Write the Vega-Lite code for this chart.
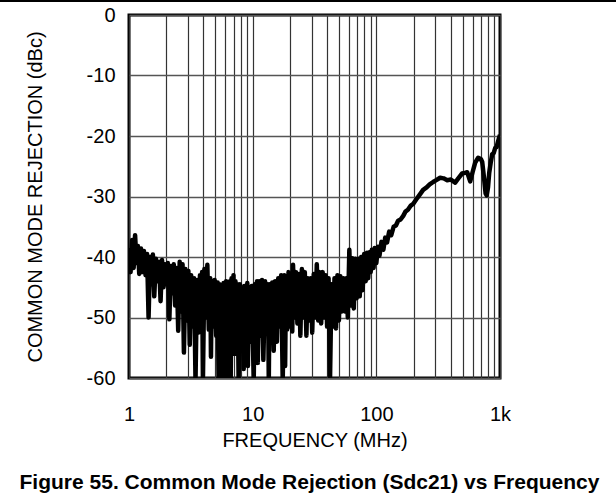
{
  "$schema": "https://vega.github.io/schema/vega-lite/v6.json",
  "width": 371,
  "height": 363,
  "autosize": {"type": "none"},
  "padding": {"left": 129, "top": 15, "right": 116, "bottom": 122},
  "background": "white",
  "config": {
    "font": "Liberation Sans",
    "view": {"stroke": "black", "strokeWidth": 3},
    "axis": {
      "domain": false,
      "ticks": false,
      "labelFont": "Liberation Sans",
      "titleFont": "Liberation Sans",
      "labelFontSize": 20,
      "titleFontSize": 20,
      "titleFontWeight": "normal",
      "labelColor": "black",
      "titleColor": "black",
      "gridOpacity": 1
    }
  },
  "title": {
    "text": "Figure 55. Common Mode Rejection (Sdc21) vs Frequency",
    "orient": "bottom",
    "anchor": "middle",
    "font": "Liberation Sans",
    "fontSize": 21,
    "fontWeight": "bold",
    "color": "black",
    "offset": 22,
    "dx": -5
  },
  "layer": [
    {
      "data": {"values": [{}]},
      "mark": {"type": "rule", "clip": false, "color": "black", "strokeWidth": 2},
      "encoding": {
        "x": {"datum": 0.05, "type": "quantitative"},
        "x2": {"datum": 20000},
        "y": {"datum": 2.3, "type": "quantitative"}
      }
    },
    {
      "data": {
        "values": [
          {"f": 1.00, "db": -38.5}, {"f": 1.03, "db": -42.5}, {"f": 1.06, "db": -37.2}, {"f": 1.09, "db": -41.8},
          {"f": 1.12, "db": -36.4}, {"f": 1.15, "db": -41.0}, {"f": 1.18, "db": -38.2}, {"f": 1.21, "db": -42.8},
          {"f": 1.25, "db": -38.6}, {"f": 1.28, "db": -42.5}, {"f": 1.32, "db": -39.0}, {"f": 1.36, "db": -43.0},
          {"f": 1.40, "db": -39.5}, {"f": 1.44, "db": -50.0}, {"f": 1.48, "db": -40.0}, {"f": 1.52, "db": -44.5},
          {"f": 1.56, "db": -39.6}, {"f": 1.60, "db": -46.5}, {"f": 1.65, "db": -40.3}, {"f": 1.70, "db": -44.0},
          {"f": 1.75, "db": -40.8}, {"f": 1.80, "db": -47.3}, {"f": 1.85, "db": -40.5}, {"f": 1.90, "db": -45.0},
          {"f": 1.95, "db": -41.2}, {"f": 2.00, "db": -44.5}, {"f": 2.06, "db": -41.0}, {"f": 2.12, "db": -50.3},
          {"f": 2.18, "db": -41.5}, {"f": 2.24, "db": -46.0}, {"f": 2.30, "db": -41.2}, {"f": 2.36, "db": -48.0},
          {"f": 2.43, "db": -41.8}, {"f": 2.50, "db": -52.2}, {"f": 2.57, "db": -40.8}, {"f": 2.64, "db": -49.0},
          {"f": 2.71, "db": -41.2}, {"f": 2.78, "db": -55.8}, {"f": 2.86, "db": -42.0}, {"f": 2.94, "db": -50.5},
          {"f": 3.02, "db": -42.3}, {"f": 3.10, "db": -54.5}, {"f": 3.18, "db": -43.0}, {"f": 3.27, "db": -51.5},
          {"f": 3.36, "db": -43.5}, {"f": 3.45, "db": -60.5}, {"f": 3.55, "db": -43.8}, {"f": 3.65, "db": -52.5},
          {"f": 3.75, "db": -43.0}, {"f": 3.85, "db": -51.0}, {"f": 3.90, "db": -42.5}, {"f": 3.96, "db": -60.5},
          {"f": 4.07, "db": -42.0}, {"f": 4.18, "db": -50.0}, {"f": 4.30, "db": -41.3}, {"f": 4.42, "db": -52.0},
          {"f": 4.54, "db": -43.5}, {"f": 4.60, "db": -56.5}, {"f": 4.67, "db": -44.0}, {"f": 4.80, "db": -51.5},
          {"f": 4.93, "db": -43.8}, {"f": 5.07, "db": -53.0}, {"f": 5.21, "db": -44.2}, {"f": 5.30, "db": -60.5},
          {"f": 5.40, "db": -44.5}, {"f": 5.51, "db": -52.0}, {"f": 5.60, "db": -45.0}, {"f": 5.72, "db": -60.5},
          {"f": 5.82, "db": -44.3}, {"f": 5.98, "db": -53.5}, {"f": 6.10, "db": -44.0}, {"f": 6.17, "db": -60.5},
          {"f": 6.32, "db": -44.5}, {"f": 6.45, "db": -53.0}, {"f": 6.55, "db": -44.0}, {"f": 6.64, "db": -60.5},
          {"f": 6.75, "db": -43.5}, {"f": 6.87, "db": -54.0}, {"f": 7.00, "db": -43.0}, {"f": 7.13, "db": -56.0},
          {"f": 7.26, "db": -44.0}, {"f": 7.40, "db": -52.5}, {"f": 7.55, "db": -44.5}, {"f": 7.70, "db": -60.5},
          {"f": 7.88, "db": -44.5}, {"f": 8.10, "db": -53.0}, {"f": 8.33, "db": -45.0}, {"f": 8.46, "db": -58.5},
          {"f": 8.56, "db": -44.8}, {"f": 8.80, "db": -53.0}, {"f": 9.05, "db": -44.3}, {"f": 9.15, "db": -58.0},
          {"f": 9.30, "db": -45.0}, {"f": 9.56, "db": -54.0}, {"f": 9.83, "db": -44.8}, {"f": 10.2, "db": -60.5},
          {"f": 10.4, "db": -44.5}, {"f": 10.7, "db": -52.5}, {"f": 10.85, "db": -44.0}, {"f": 11.0, "db": -57.5},
          {"f": 11.3, "db": -44.0}, {"f": 11.6, "db": -53.0}, {"f": 11.9, "db": -43.8}, {"f": 12.2, "db": -57.0},
          {"f": 12.6, "db": -44.0}, {"f": 12.9, "db": -52.0}, {"f": 13.3, "db": -44.5}, {"f": 13.5, "db": -60.5},
          {"f": 13.7, "db": -44.5}, {"f": 14.0, "db": -53.0}, {"f": 14.4, "db": -44.2}, {"f": 14.8, "db": -55.5},
          {"f": 15.2, "db": -44.0}, {"f": 15.7, "db": -54.0}, {"f": 16.1, "db": -43.5}, {"f": 16.6, "db": -51.5},
          {"f": 17.0, "db": -43.0}, {"f": 17.5, "db": -60.5}, {"f": 18.0, "db": -43.0}, {"f": 18.3, "db": -58.0},
          {"f": 18.6, "db": -43.2}, {"f": 19.0, "db": -52.0}, {"f": 19.5, "db": -42.5}, {"f": 20.1, "db": -51.5},
          {"f": 20.6, "db": -42.8}, {"f": 20.9, "db": -52.3}, {"f": 21.2, "db": -41.3}, {"f": 21.8, "db": -50.0},
          {"f": 22.4, "db": -42.5}, {"f": 23.0, "db": -51.0}, {"f": 23.7, "db": -42.8}, {"f": 24.3, "db": -53.0},
          {"f": 25.0, "db": -42.0}, {"f": 25.7, "db": -50.0}, {"f": 26.4, "db": -42.5}, {"f": 27.2, "db": -53.0},
          {"f": 27.9, "db": -43.5}, {"f": 28.7, "db": -50.5}, {"f": 29.5, "db": -43.5}, {"f": 30.3, "db": -52.5},
          {"f": 31.2, "db": -42.8}, {"f": 32.1, "db": -50.0}, {"f": 33.0, "db": -41.2}, {"f": 33.9, "db": -50.5},
          {"f": 34.8, "db": -42.5}, {"f": 35.8, "db": -51.0}, {"f": 36.8, "db": -42.5}, {"f": 37.8, "db": -50.0},
          {"f": 38.9, "db": -43.0}, {"f": 40.0, "db": -51.5}, {"f": 41.1, "db": -43.5}, {"f": 42.2, "db": -60.5},
          {"f": 43.4, "db": -44.5}, {"f": 44.6, "db": -51.5}, {"f": 45.9, "db": -43.5}, {"f": 47.2, "db": -51.8},
          {"f": 48.5, "db": -43.0}, {"f": 49.8, "db": -50.5}, {"f": 51.2, "db": -43.2}, {"f": 52.7, "db": -49.0},
          {"f": 54.1, "db": -43.5}, {"f": 55.7, "db": -49.0}, {"f": 57.2, "db": -43.5}, {"f": 58.8, "db": -50.0},
          {"f": 60.5, "db": -38.8}, {"f": 62.2, "db": -48.0}, {"f": 63.9, "db": -40.2}, {"f": 65.7, "db": -48.5},
          {"f": 67.5, "db": -40.3}, {"f": 69.4, "db": -46.8}, {"f": 71.4, "db": -40.3}, {"f": 73.4, "db": -46.5},
          {"f": 75.4, "db": -40.0}, {"f": 77.5, "db": -45.5}, {"f": 79.7, "db": -39.5}, {"f": 82, "db": -44.0},
          {"f": 84, "db": -39.3}, {"f": 86, "db": -43.5}, {"f": 88, "db": -39.2}, {"f": 90, "db": -42.5},
          {"f": 92, "db": -38.8}, {"f": 95, "db": -41.8}, {"f": 97, "db": -38.5}, {"f": 100, "db": -41.0},
          {"f": 103, "db": -38.3}, {"f": 106, "db": -39.8}, {"f": 110, "db": -37.5}, {"f": 114, "db": -38.8},
          {"f": 118, "db": -36.8}, {"f": 122, "db": -37.6}, {"f": 127, "db": -35.8}, {"f": 132, "db": -36.4},
          {"f": 138, "db": -35.0}, {"f": 144, "db": -34.8}, {"f": 150, "db": -34.0}, {"f": 157, "db": -33.8},
          {"f": 165, "db": -33.2}, {"f": 172, "db": -32.5}, {"f": 180, "db": -32.2}, {"f": 190, "db": -31.5},
          {"f": 199, "db": -31.2}, {"f": 210, "db": -30.5}, {"f": 226, "db": -29.6}, {"f": 239, "db": -28.9},
          {"f": 255, "db": -28.5}, {"f": 270, "db": -28.0}, {"f": 288, "db": -27.6}, {"f": 305, "db": -27.3},
          {"f": 328, "db": -26.9}, {"f": 350, "db": -27.0}, {"f": 374, "db": -27.3}, {"f": 400, "db": -27.2},
          {"f": 434, "db": -27.7}, {"f": 460, "db": -27.0}, {"f": 494, "db": -26.2}, {"f": 520, "db": -26.1},
          {"f": 543, "db": -26.0}, {"f": 574, "db": -27.5}, {"f": 600, "db": -26.0}, {"f": 630, "db": -24.4},
          {"f": 666, "db": -23.6}, {"f": 700, "db": -23.8}, {"f": 718, "db": -24.3}, {"f": 745, "db": -27.2},
          {"f": 765, "db": -29.5}, {"f": 780, "db": -29.8}, {"f": 800, "db": -28.5}, {"f": 818, "db": -26.1},
          {"f": 840, "db": -24.5}, {"f": 865, "db": -23.0}, {"f": 890, "db": -22.8}, {"f": 914, "db": -22.0},
          {"f": 940, "db": -21.8}, {"f": 967, "db": -20.8}, {"f": 1000, "db": -19.8}
        ]
      },
      "mark": {"type": "line", "color": "black", "strokeWidth": 4.5, "strokeJoin": "round", "clip": true},
      "encoding": {
        "x": {
          "field": "f",
          "type": "quantitative",
          "scale": {"type": "log", "domain": [1, 1000]},
          "axis": {
            "title": "FREQUENCY (MHz)",
            "values": [1, 2, 3, 4, 5, 6, 7, 8, 9, 10, 20, 30, 40, 50, 60, 70, 80, 90, 100, 200, 300, 400, 500, 600, 700, 800, 900, 1000],
            "labelExpr": "datum.value == 1 ? '1' : datum.value == 10 ? '10' : datum.value == 100 ? '100' : datum.value == 1000 ? '1k' : ''",
            "labelOverlap": false,
            "labelFlush": false,
            "labelPadding": 26,
            "titlePadding": 6,
            "grid": true,
            "gridColor": "#333333",
            "gridWidth": 1.2
          }
        },
        "y": {
          "field": "db",
          "type": "quantitative",
          "scale": {"domain": [-60, 0], "nice": false, "zero": false},
          "axis": {
            "title": "COMMON MODE REJECTION (dBc)",
            "values": [-60, -50, -40, -30, -20, -10, 0],
            "labelExpr": "replace(datum.label, '\u2212', '-')",
            "labelPadding": 14,
            "titlePadding": 41,
            "grid": true,
            "gridColor": "#555555",
            "gridWidth": 1.5
          }
        }
      }
    }
  ]
}
